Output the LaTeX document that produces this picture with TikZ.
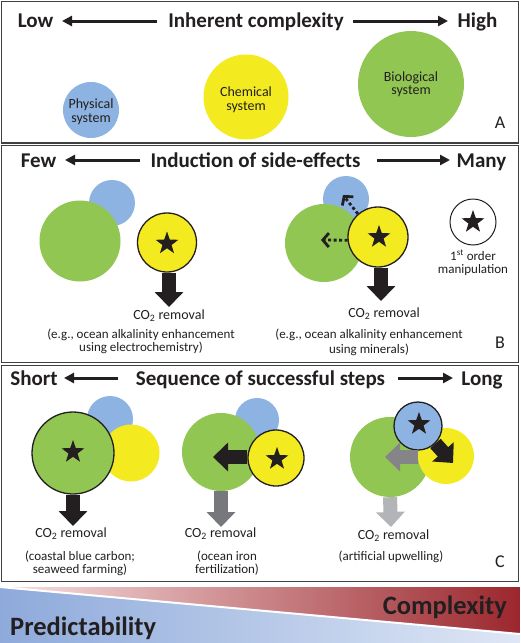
\documentclass[tikz,border=0pt]{standalone}
\usepackage{fontspec}
\setmainfont{Carlito}
\usetikzlibrary{shapes.geometric,arrows.meta}
\definecolor{cblue}{HTML}{8DB3E2}
\definecolor{cyel}{HTML}{F3EA1F}
\definecolor{cgreen}{HTML}{91C653}
\definecolor{ink}{HTML}{231F20}
\definecolor{framec}{HTML}{404040}
\definecolor{gdark}{HTML}{77787B}
\definecolor{glight}{HTML}{B3B4B7}
\definecolor{predL}{HTML}{8EAADB}
\definecolor{predR}{HTML}{DFE7F5}
\definecolor{compL}{HTML}{F8E2E2}
\definecolor{compR}{HTML}{9B272D}
\tikzset{
  panelbox/.style={draw=framec, line width=1.3pt},
  hdr/.style={font=\fontsize{21}{25}\selectfont\bfseries, text=ink, anchor=base, inner sep=0pt},
  harrow/.style={draw=ink, line width=3pt, -{Triangle[length=10pt 0 0,width=10pt 0 0]}},
  blob/.style={circle, inner sep=0pt, minimum size=#1},
  ring/.style={draw=ink, line width=1.3pt},
  starmark/.style={star, star points=5, star point ratio=2.5, fill=ink, inner sep=0pt, minimum size=24pt},
  ctext/.style={font=\fontsize{14}{13.5}\selectfont, text=ink, align=center, inner sep=0pt},
  rtext/.style={font=\fontsize{14}{14}\selectfont, text=ink, inner sep=0pt},
  ptext/.style={font=\fontsize{13}{13}\selectfont, text=ink, align=center, inner sep=0pt},
  letter/.style={font=\fontsize{18}{18}\selectfont, text=ink, inner sep=0pt},
  blockarrow/.style={draw=#1, line width=14pt, -{Triangle[length=15pt 0 0,width=28pt 0 0]}},
  dasharrow/.style={draw=ink, line width=2.8pt, dash pattern=on 3pt off 2.5pt, -{Straight Barb[length=6pt 0 0,width=14pt 0 0]}},
  bigword/.style={font=\fontsize{26.5}{30}\selectfont\bfseries, text=ink, inner sep=0pt}
}
\begin{document}
\begin{tikzpicture}[x=1pt,y=-1pt]
\useasboundingbox (0,0) rectangle (520,643);
\fill[white] (0,0) rectangle (520,643);

% ---------------- Panel A ----------------
\draw[panelbox] (1.5,1.5) rectangle (518.5,143);
\node[hdr] (lowA) at (35.5,27) {Low};
\node[hdr] (ttlA) at (256,27) {Inherent complexity};
\node[hdr] (hiA) at (477.5,27) {High};
\coordinate (aAls) at (157,21); \coordinate (aAle) at (62,21);
\coordinate (aArs) at (353,21); \coordinate (aAre) at (448,21);
\draw[harrow] (aAls) -- (aAle);
\draw[harrow] (aArs) -- (aAre);

\node[blob=56pt, fill=cblue] (physA) at (91,110) {};
\node[blob=85pt, fill=cyel] (chemA) at (246,97) {};
\node[blob=106pt, fill=cgreen] (bioA) at (411,84) {};
\node[ctext] (physT) at (91,112) {Physical\\system};
\node[ctext] (chemT) at (246,100) {Chemical\\system};
\node[ctext] (bioT) at (411,84.5) {Biological\\system};
\node[letter] (labA) at (500,123) {A};

% ---------------- Panel B ----------------
\draw[panelbox] (1.5,145.5) rectangle (518.5,362.5);
\node[hdr] (fewB) at (38.5,167) {Few};
\node[hdr] (ttlB) at (255.5,167) {Induction of side-effects};
\node[hdr] (manyB) at (481.5,167) {Many};
\coordinate (aBls) at (140,160); \coordinate (aBle) at (65,160);
\coordinate (aBrs) at (377,160); \coordinate (aBre) at (450,160);
\draw[harrow] (aBls) -- (aBle);
\draw[harrow] (aBrs) -- (aBre);

% left group
\node[blob=46pt, fill=cblue] (bBL) at (112,203) {};
\node[blob=81pt, fill=cgreen] (gBL) at (80,241) {};
\node[blob=59pt, fill=cyel, ring] (yBL) at (167,242.5) {};
\node[starmark] (sBL) at (167,243.5) {};
\coordinate (tBL) at (169,307);
\draw[blockarrow=ink] (yBL.south -| tBL) -- (tBL);
\node[rtext] (co2BL) at (169,316) {CO\textsubscript{2} removal};
\node[ptext] (exBL) at (141,341) {(e.g., ocean alkalinity enhancement\\using electrochemistry)};

% right group
\node[blob=46pt, fill=cblue] (bBR) at (346,199) {};
\node[blob=78pt, fill=cgreen] (gBR) at (324,243) {};
\node[blob=60pt, fill=cyel, ring] (yBR) at (378,237) {};
\node[starmark] (sBR) at (379,237) {};
\coordinate (dLe) at (321,240);
\coordinate (dUe) at (343,195);
\draw[dasharrow] (yBR.186) -- (dLe);
\draw[dasharrow] (yBR.131) -- (dUe);
\coordinate (tBR) at (381,301);
\draw[blockarrow=ink] (yBR.south -| tBR) -- (tBR);
\node[rtext] (co2BR) at (384,314) {CO\textsubscript{2} removal};
\node[ptext] (exBR) at (369,342.5) {(e.g., ocean alkalinity enhancement\\[1.5pt]using minerals)};

% legend
\node[blob=46pt, fill=white, draw=ink, line width=1pt] (legB) at (473,222) {};
\node[starmark] (sLeg) at (473,222) {};
\node[ptext] (legT) at (473,262.5) {1\textsuperscript{st} order\\manipulation};
\node[letter] (labB) at (500,343) {B};

% ---------------- Panel C ----------------
\draw[panelbox] (1.5,365.5) rectangle (518.5,581.5);
\node[hdr] (shortC) at (34,385) {Short};
\node[hdr] (ttlC) at (260.5,385) {Sequence of successful steps};
\node[hdr] (longC) at (482,385) {Long};
\coordinate (aCls) at (118,378); \coordinate (aCle) at (64,378);
\coordinate (aCrs) at (398,378); \coordinate (aCre) at (453,378);
\draw[harrow] (aCls) -- (aCle);
\draw[harrow] (aCrs) -- (aCre);

% group 1
\node[blob=46pt, fill=cblue] (bC1) at (110,419) {};
\node[blob=57pt, fill=cyel] (yC1) at (131,453) {};
\node[blob=82pt, fill=cgreen, ring] (gC1) at (73,453) {};
\node[starmark] (sC1) at (73,452) {};
\coordinate (tC1) at (73,526);
\draw[blockarrow=ink] (gC1.south) -- (tC1);
\node[rtext] (co2C1) at (71,534) {CO\textsubscript{2} removal};
\node[ptext] (exC1) at (80,563.5) {(coastal blue carbon;\\seaweed farming)};

% group 2
\node[blob=44pt, fill=cblue] (bC2) at (257,420) {};
\node[blob=78pt, fill=cgreen] (gC2) at (221,452) {};
\node[blob=56pt, fill=cyel, ring] (yC2) at (276,458) {};
\node[starmark] (sC2) at (277,459) {};
\coordinate (lC2) at (213,457);
\draw[blockarrow=ink] (yC2.west |- lC2) -- (lC2);
\coordinate (tC2) at (221,527);
\draw[blockarrow=gdark] (gC2.south) -- (tC2);
\node[rtext] (co2C2) at (220.5,534) {CO\textsubscript{2} removal};
\node[ptext] (exC2) at (227,563.5) {(ocean iron\\fertilization)};

% group 3
\node[blob=80pt, fill=cgreen] (gC3) at (390,457) {};
\node[blob=56pt, fill=cyel] (yC3) at (446,456) {};
\node[blob=48pt, fill=cblue, ring] (bC3) at (418,426) {};
\node[starmark] (sC3) at (419,424) {};
\coordinate (dC3) at (453,463);
\draw[blockarrow=ink] (bC3.-45) -- (dC3);
\coordinate (lC3) at (385,457);
\draw[blockarrow=gdark!90!white] (yC3.west |- lC3) -- (lC3);
\coordinate (tC3) at (391,527);
\draw[blockarrow=glight] (gC3.south) -- (tC3);
\node[rtext] (co2C3) at (393.5,536) {CO\textsubscript{2} removal};
\node[ptext] (exC3) at (391,557) {(artificial upwelling)};
\node[letter] (labC) at (500,562) {C};

% ---------------- Gradient band ----------------
\shade[left color=compL, right color=compR] (0,587) -- (520,587) -- (520,634) -- cycle;
\shade[left color=predL, right color=predR] (0,587) -- (520,634) -- (520,643) -- (0,643) -- cycle;
\draw[white, line width=2pt] (0,587) -- (520,634);
\node[bigword, anchor=base east] (compW) at (507,614) {Complexity};
\node[bigword, anchor=base west] (predW) at (10,635) {Predictability};
\end{tikzpicture}
\end{document}
